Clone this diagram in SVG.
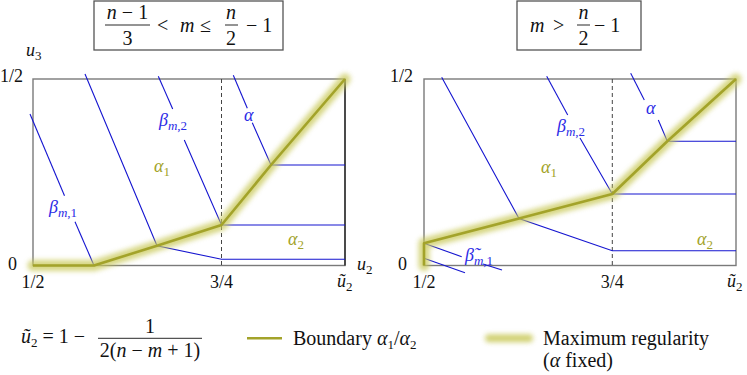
<svg xmlns="http://www.w3.org/2000/svg" width="747" height="375" viewBox="0 0 747 375" font-family="Liberation Serif, serif">
<style>
text{fill:#111;font-family:'Liberation Serif'}
tspan{font-family:'Liberation Serif'}
.it{font-style:italic;font-family:'Liberation Serif'}
.ax{font-size:18px}
.ti{font-size:20px}
.lg{font-size:20px}
.bl{fill:#2b2be6;font-size:18px}
.ol{fill:#a3a32a;font-size:18px}
.frame{fill:none;stroke:#7a7a7a;stroke-width:1.4}
.tbox{fill:none;stroke:#555;stroke-width:1.3}
.bar{stroke:#111;stroke-width:0.9}
.dash{stroke:#444;stroke-width:1;stroke-dasharray:4 3}
.blu{fill:none;stroke:#1515d0;stroke-width:1.1}
.glow{fill:none;stroke:#c9c95a;stroke-width:11;stroke-linecap:round;stroke-linejoin:round;opacity:0.75;filter:url(#blur)}
.core{fill:none;stroke:#a3a32a;stroke-width:2.6;stroke-linejoin:round}
.sub{font-size:13px}
</style>
<defs>
<filter id="blur" filterUnits="userSpaceOnUse" x="0" y="0" width="747" height="375"><feGaussianBlur stdDeviation="2.6"/></filter>
</defs>

<g id="title-left">
<rect class="tbox" x="94" y="1" width="189" height="49"/>
<text class="ti" x="127.5" y="19" text-anchor="middle"><tspan class="it">n</tspan> − 1</text>
<line class="bar" x1="105" y1="25" x2="150" y2="25"/>
<text class="ti" x="127.5" y="45" text-anchor="middle">3</text>
<text class="ti" x="157" y="32">&lt;</text>
<text class="ti it" x="180" y="32">m</text>
<text class="ti" x="200" y="32">≤</text>
<text class="ti it" x="231" y="19" text-anchor="middle">n</text>
<line class="bar" x1="225" y1="25" x2="238" y2="25"/>
<text class="ti" x="231" y="45" text-anchor="middle">2</text>
<text class="ti" x="246" y="32">− 1</text>
</g>

<g id="title-right">
<rect class="tbox" x="517" y="1" width="124" height="49"/>
<text class="ti it" x="530" y="32">m</text>
<text class="ti" x="553" y="32">&gt;</text>
<text class="ti it" x="583.5" y="19" text-anchor="middle">n</text>
<line class="bar" x1="577" y1="25" x2="590" y2="25"/>
<text class="ti" x="583.5" y="45" text-anchor="middle">2</text>
<text class="ti" x="594" y="32">− 1</text>
</g>

<g id="panel-left">
<rect class="frame" x="33" y="79" width="312" height="186.5"/>
<line x1="345" y1="79" x2="345" y2="265.5" stroke="#111" stroke-width="1.2"/>
<line class="dash" x1="221.5" y1="79" x2="221.5" y2="265.5"/>
<text class="ax it" x="26" y="56">u<tspan class="sub" dy="4" font-style="normal">3</tspan></text>
<text class="ax" x="0" y="82">1/2</text>
<text class="ax" x="8" y="270">0</text>
<text class="ax" x="33" y="288" text-anchor="middle">1/2</text>
<text class="ax" x="221.5" y="288" text-anchor="middle">3/4</text>
<text class="ax it" x="337" y="287">ũ<tspan class="sub" dy="4" font-style="normal">2</tspan></text>
<text class="ax it" x="357" y="270">u<tspan class="sub" dy="4" font-style="normal">2</tspan></text>
</g>

<g id="panel-right">
<rect class="frame" x="424" y="79" width="312" height="186.5"/>
<line class="dash" x1="612.3" y1="79" x2="612.3" y2="265.5"/>
<text class="ax" x="390" y="82">1/2</text>
<text class="ax" x="398" y="270">0</text>
<text class="ax" x="424" y="288" text-anchor="middle">1/2</text>
<text class="ax" x="612.3" y="288" text-anchor="middle">3/4</text>
<text class="ax it" x="727" y="287">ũ<tspan class="sub" dy="4" font-style="normal">2</tspan></text>
</g>

<g id="connectors">
<polyline class="blu" points="30,114 64.5,195.7"/>
<polyline class="blu" points="75,221.7 94,265.5"/>
<polyline class="blu" points="85,74 157,245.7 221.5,259.3 345,259.3"/>
<polyline class="blu" points="158.3,76.3 172.7,109"/>
<polyline class="blu" points="184.3,140 221.5,225 345,225"/>
<polyline class="blu" points="233.3,75.3 247.3,108.3"/>
<polyline class="blu" points="252.3,122.7 271,165 345,165"/>
<polyline class="blu" points="441.7,77.3 519,218.5 612.3,250.7 736,250.7"/>
<polyline class="blu" points="546.7,76.3 567.7,115"/>
<polyline class="blu" points="580,138 612.3,194 736,194"/>
<polyline class="blu" points="630.7,73.3 644.3,100"/>
<polyline class="blu" points="658.3,120 667.3,141.3 736,141.3"/>
<polyline class="blu" points="424,243.3 461.7,256.7"/>
<polyline class="blu" points="483,264 502,270"/>
<polyline class="blu" points="424,258.3 465,272.7"/>
<polyline class="glow" points="33,265.5 94,265.5 157,245.7 221.5,225 271,165 345,79"/>
<polyline class="core" points="33,265.5 94,265.5 157,245.7 221.5,225 271,165 345,79"/>
<polyline class="glow" points="424,265.5 424,243.3 519,218.5 612.3,194 667.3,141.3 736,79"/>
<polyline class="core" points="424,265.5 424,243.3 519,218.5 612.3,194 667.3,141.3 736,79"/>
</g>

<g id="labels">
<text class="bl it" x="49" y="213">β<tspan class="sub" dy="4">m</tspan><tspan class="sub" font-style="normal">,1</tspan></text>
<text class="bl it" x="159" y="126">β<tspan class="sub" dy="4">m</tspan><tspan class="sub" font-style="normal">,2</tspan></text>
<text class="bl it" x="244" y="121">α</text>
<text class="ol it" x="154" y="172">α<tspan class="sub" dy="4" font-style="normal">1</tspan></text>
<text class="ol it" x="288" y="245">α<tspan class="sub" dy="4" font-style="normal">2</tspan></text>
<text class="bl it" x="557" y="132">β<tspan class="sub" dy="4">m</tspan><tspan class="sub" font-style="normal">,2</tspan></text>
<text class="bl it" x="646" y="114">α</text>
<text class="ol it" x="541" y="173">α<tspan class="sub" dy="4" font-style="normal">1</tspan></text>
<text class="ol it" x="697" y="245">α<tspan class="sub" dy="4" font-style="normal">2</tspan></text>
<text class="bl it" x="465" y="261">β̃<tspan class="sub" dy="4">m</tspan><tspan class="sub" font-style="normal">,1</tspan></text>
</g>

<g id="legend">
<text class="lg" x="21" y="343"><tspan class="it">ũ</tspan><tspan class="sub" dy="4">2</tspan><tspan dy="-4"> = 1 −</tspan></text>
<text class="lg" x="150" y="333" text-anchor="middle">1</text>
<line class="bar" x1="98" y1="338.3" x2="202" y2="338.3"/>
<text class="lg" x="150" y="357" text-anchor="middle">2(<tspan class="it">n</tspan> − <tspan class="it">m</tspan> + 1)</text>
<line x1="247" y1="338.3" x2="282" y2="338.3" stroke="#a3a32a" stroke-width="2.4"/>
<text class="lg" x="293" y="345">Boundary <tspan class="it">α</tspan><tspan class="sub" dy="4">1</tspan><tspan dy="-4">/</tspan><tspan class="it">α</tspan><tspan class="sub" dy="4">2</tspan></text>
<line x1="489" y1="338.3" x2="529" y2="338.3" stroke="#c9c95a" stroke-width="8" stroke-linecap="round" opacity="0.85" filter="url(#blur)"/>
<text class="lg" x="543" y="345">Maximum regularity</text>
<text class="lg" x="543" y="367">(<tspan class="it">α</tspan> fixed)</text>
</g>
</svg>
